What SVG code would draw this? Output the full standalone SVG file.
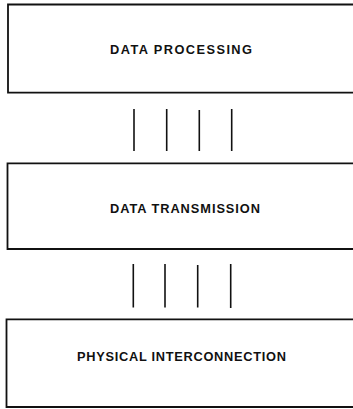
<svg xmlns="http://www.w3.org/2000/svg" width="353" height="409" viewBox="0 0 353 409">
<style>
.box{fill:none;stroke:#111;stroke-width:1.8}
.ln{stroke:#111;stroke-width:1.6}
.lbl{font-family:"Liberation Sans",Arial,sans-serif;font-weight:bold;font-size:12.8px;fill:#111}
</style>
<rect width="353" height="409" fill="#fff"/>
<g id="data-processing">
<path class="box" d="M360 4.5H8V92.7H360"/>
<text class="lbl" x="110" y="53.5" textLength="142" lengthAdjust="spacing">DATA PROCESSING</text>
</g>
<g id="data-transmission">
<path class="box" d="M360 163.3H7.5V249H360"/>
<text class="lbl" x="110" y="213" textLength="150" lengthAdjust="spacing">DATA TRANSMISSION</text>
</g>
<g id="physical-interconnection">
<path class="box" d="M360 319.3H6.5V407H360"/>
<text class="lbl" x="77" y="360.5" textLength="209" lengthAdjust="spacing">PHYSICAL INTERCONNECTION</text>
</g>
<g id="connectors">
<line class="ln" x1="134" y1="109" x2="134" y2="151"/>
<line class="ln" x1="166.7" y1="109" x2="166.7" y2="151"/>
<line class="ln" x1="199.3" y1="110" x2="199.3" y2="151"/>
<line class="ln" x1="231.7" y1="109" x2="231.7" y2="151"/>
<line class="ln" x1="133.3" y1="264" x2="133.3" y2="307.5"/>
<line class="ln" x1="165" y1="264" x2="165" y2="307.5"/>
<line class="ln" x1="197.7" y1="265" x2="197.7" y2="307.5"/>
<line class="ln" x1="230.7" y1="264" x2="230.7" y2="308"/>
</g>
</svg>
